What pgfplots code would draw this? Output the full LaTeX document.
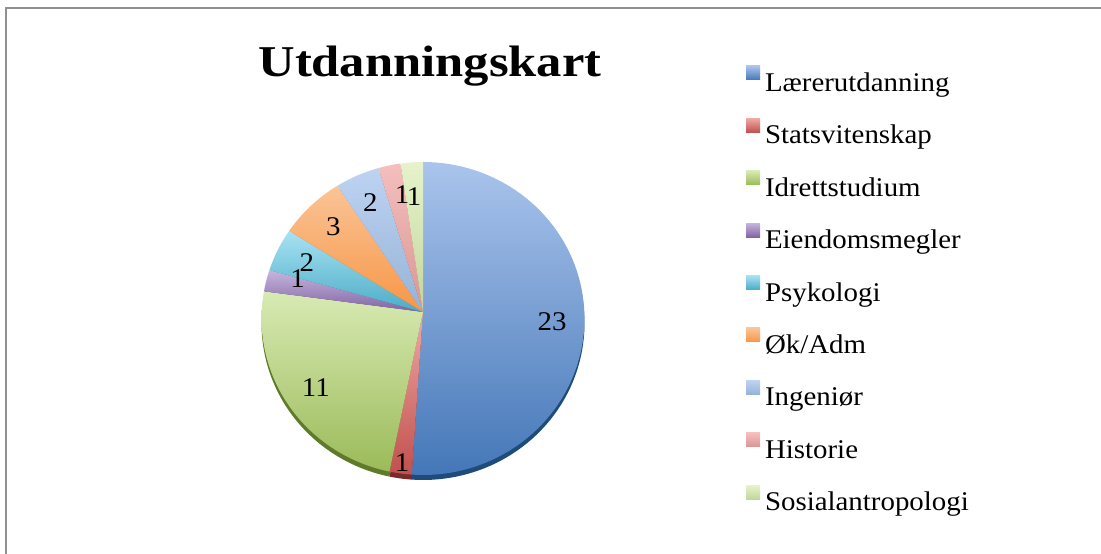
\documentclass[border=0pt]{standalone}
\usepackage{fontspec}
\setmainfont{Liberation Serif}[FakeStretch=1.07]
\newfontfamily\titlefam{Liberation Serif}[FakeStretch=1.15]
\usepackage{pgfplots}
\usepackage{pgfplotstable}
\pgfplotsset{compat=1.18}

% face top / face bottom / rim colours
\definecolor{top0}{HTML}{AAC4EC}\definecolor{bot0}{HTML}{4477B8}\definecolor{rim0}{HTML}{1F4B7A}
\definecolor{top1}{HTML}{F0A8A6}\definecolor{bot1}{HTML}{C0504D}\definecolor{rim1}{HTML}{7A2A28}
\definecolor{top2}{HTML}{D8EAB3}\definecolor{bot2}{HTML}{9BBB59}\definecolor{rim2}{HTML}{5E7A2A}
\definecolor{top3}{HTML}{C6B5DE}\definecolor{bot3}{HTML}{8064A2}\definecolor{rim3}{HTML}{4E3A6B}
\definecolor{top4}{HTML}{A8E2F3}\definecolor{bot4}{HTML}{4BACC6}\definecolor{rim4}{HTML}{27707F}
\definecolor{top5}{HTML}{FAC497}\definecolor{bot5}{HTML}{F79646}\definecolor{rim5}{HTML}{A0561A}
\definecolor{top6}{HTML}{BED3F2}\definecolor{bot6}{HTML}{95B3D7}\definecolor{rim6}{HTML}{5A7AA8}
\definecolor{top7}{HTML}{F4BFBE}\definecolor{bot7}{HTML}{D99694}\definecolor{rim7}{HTML}{9A5553}
\definecolor{top8}{HTML}{E6F3CB}\definecolor{bot8}{HTML}{C3D69B}\definecolor{rim8}{HTML}{7E9450}
\definecolor{framegray}{HTML}{909090}

\pgfplotstableread{
name value lf dx dy
Lærerutdanning 23 0.80 0 0
Statsvitenskap 1 0.93 0 0
Idrettstudium 11 0.80 0 0
Eiendomsmegler 1 0.80 0 8
Psykologi 2 0.80 0 0
Øk/Adm 3 0.80 0 0
Ingeniør 2 0.80 0 0
Historie 1 0.80 6 0
Sosialantropologi 1 0.80 0 -4
}\piedata

\newcommand\labelfont{\fontsize{27}{30}\selectfont}

\begin{document}
\begin{tikzpicture}
\pgfplotstablegetrowsof{\piedata}
\pgfmathtruncatemacro\nrows{\pgfplotsretval-1}
\def\total{0}
\pgfplotsforeachungrouped \i in {0,...,\nrows}{%
  \pgfplotstablegetelem{\i}{value}\of\piedata
  \pgfmathsetmacro\total{\total+\pgfplotsretval}%
}
\begin{axis}[
  at={(0,0)}, anchor=south west,
  scale only axis, width=1101pt, height=554pt,
  xmin=0, xmax=1101, ymin=0, ymax=554,
  hide axis, clip=false,
  legend image code/.code={\path[#1] (0pt,5pt) rectangle (14pt,19pt);},
  legend cell align=left,
  legend style={at={(axis cs:746,488)}, anchor=north west, draw=none, fill=none,
    inner sep=0pt, outer sep=0pt, row sep=20.9pt, column sep=5pt,
    font=\labelfont,
    nodes={inner sep=0pt, outer sep=0pt, text height=19pt, text depth=6pt}},
]
% rim (3D edge) drawn first, shifted down
\def\cum{0}
\pgfplotsforeachungrouped \i in {0,...,\nrows}{%
  \pgfplotstablegetelem{\i}{value}\of\piedata \let\v\pgfplotsretval
  \pgfmathsetmacro\a{\cum/\total*360}%
  \pgfmathsetmacro\cum{\cum+\v}%
  \pgfmathsetmacro\b{\cum/\total*360}%
  \edef\cmd{\noexpand\addplot[forget plot, draw=none, fill=rim\i, domain=\a:\b, samples=80, variable=\noexpand\t]
    ({423+161.5*sin(\noexpand\t)},{230.5+156.5*cos(\noexpand\t)}) -- (axis cs:423,237) -- cycle;}%
  \cmd
}
% faces
\def\cum{0}
\pgfplotsforeachungrouped \i in {0,...,\nrows}{%
  \pgfplotstablegetelem{\i}{value}\of\piedata \let\v\pgfplotsretval
  \pgfplotstablegetelem{\i}{name}\of\piedata \let\nm\pgfplotsretval
  \pgfmathsetmacro\a{\cum/\total*360}%
  \pgfmathsetmacro\cum{\cum+\v}%
  \pgfmathsetmacro\b{\cum/\total*360}%
  \edef\cmd{\noexpand\addplot[draw=none, top color=top\i, bottom color=bot\i, domain=\a:\b, samples=80, variable=\noexpand\t]
    ({423+161.5*sin(\noexpand\t)},{235.5+156.5*cos(\noexpand\t)}) -- (axis cs:423,242) -- cycle;
    \noexpand\addlegendentry{\nm}}%
  \cmd
}
% data labels
\def\cum{0}
\pgfplotsforeachungrouped \i in {0,...,\nrows}{%
  \pgfplotstablegetelem{\i}{value}\of\piedata \let\v\pgfplotsretval
  \pgfplotstablegetelem{\i}{lf}\of\piedata \let\f\pgfplotsretval
  \pgfplotstablegetelem{\i}{dx}\of\piedata \let\ddx\pgfplotsretval
  \pgfplotstablegetelem{\i}{dy}\of\piedata \let\ddy\pgfplotsretval
  \pgfmathsetmacro\a{\cum/\total*360}%
  \pgfmathsetmacro\cum{\cum+\v}%
  \pgfmathsetmacro\b{\cum/\total*360}%
  \pgfmathsetmacro\m{(\a+\b)/2}%
  \pgfmathsetmacro\lx{423+\f*161.5*sin(\m)+\ddx}%
  \pgfmathsetmacro\ly{242+\f*(235.5+156.5*cos(\m)-242)+\ddy}%
  \edef\cmd{\noexpand\node[font=\noexpand\labelfont, inner sep=0pt] at (axis cs:\lx,\ly) {\v};}%
  \cmd
}
% title
\node[font=\titlefam\bfseries\fontsize{44}{48}\selectfont, anchor=base, inner sep=0pt] at (axis cs:430,477) {Utdanningskart};
% frame (top and left edges)
\draw[framegray, line width=1.5pt] (axis cs:6,0) -- (axis cs:6,546) -- (axis cs:1101,546);
\end{axis}
\pgfresetboundingbox
\path[use as bounding box] (0,0) rectangle (1101pt,554pt);
\end{tikzpicture}
\end{document}
